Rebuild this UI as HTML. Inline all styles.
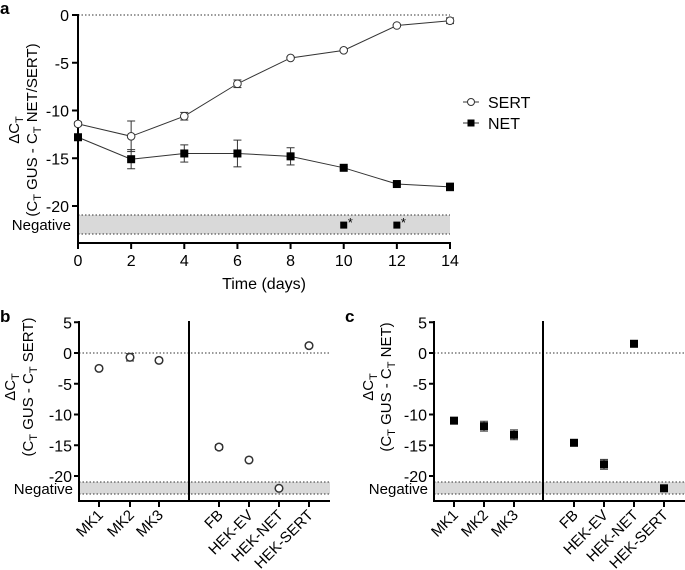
<!DOCTYPE html>
<html><head><meta charset="utf-8"><style>
html,body{margin:0;padding:0;background:#fff;}
svg{display:block;font-family:"Liberation Sans",Arial,sans-serif;}
</style></head><body>
<svg id="fig" width="685" height="570" viewBox="0 0 685 570"></svg>
<script>
const days=[0,2,4,6,8,10,12,14];
const sertA=[-11.4,-12.7,-10.6,-7.2,-4.5,-3.7,-1.1,-0.6];
const sertAErr=[0.2,1.6,0.4,0.4,0.1,0.1,0.1,0.3];
const netA=[-12.8,-15.1,-14.5,-14.5,-14.8,-16.0,-17.7,-18.0];
const netAErr=[0.1,1.0,0.9,1.4,0.9,0.1,0.1,0.4];
const netNegDays=[10,12];
const negValue=-22;
const yTicksA=[0,-5,-10,-15,-20];
const xTicksA=[0,2,4,6,8,10,12,14];
const cats=["MK1","MK2","MK3","FB","HEK-EV","HEK-NET","HEK-SERT"];
const sertB=[-2.5,-0.7,-1.2,-15.3,-17.4,-22,1.2];
const sertBErr=[0.3,0.6,0.3,0.4,0.2,0.2,0.3];
const netC=[-11.0,-11.9,-13.3,-14.6,-18.1,1.5,-22];
const netCErr=[0.3,0.8,0.8,0.3,0.8,0.3,0.2];
const yTicksBC=[5,0,-5,-10,-15,-20];

const NS="http://www.w3.org/2000/svg";
const svg=document.getElementById('fig');
function el(tag,attrs,parent,text){const e=document.createElementNS(NS,tag);for(const k in attrs)e.setAttribute(k,attrs[k]);if(text!==undefined)e.textContent=text;(parent||svg).appendChild(e);return e;}

// ---------- Panel a ----------
const gA=el('g',{});


const xA=d=>78+(d-0)*(450-78)/14;
const yA=v=>15+(0-v)*(206-15)/20;
const bandA=el('rect',{x:78,y:215,width:372,height:19,fill:'#d9d9d9'},gA);


el('line',{x1:78,x2:450,y1:215,y2:215,stroke:'#333','stroke-dasharray':'1.5,2'},gA);
el('line',{x1:78,x2:450,y1:234,y2:234,stroke:'#333','stroke-dasharray':'1.5,2'},gA);
el('line',{x1:78,x2:450,y1:yA(0),y2:yA(0),stroke:'#333','stroke-dasharray':'1.5,2'},gA);
el('line',{x1:78,x2:78,y1:14,y2:244,stroke:'#000','stroke-width':2},gA);
el('line',{x1:77,x2:451,y1:243,y2:243,stroke:'#000','stroke-width':2},gA);
yTicksA.forEach(t=>{el('line',{x1:72,x2:78,y1:yA(t),y2:yA(t),stroke:'#000','stroke-width':2},gA);
 const tx=el('text',{x:69,y:yA(t)+6,'text-anchor':'end','font-size':16},gA,String(t));
 });
const negA=el('text',{x:71,y:230,'text-anchor':'end','font-size':15},gA,'Negative');

xTicksA.forEach(t=>{el('line',{x1:xA(t),x2:xA(t),y1:243,y2:249,stroke:'#000','stroke-width':2},gA);
 const tx=el('text',{x:xA(t),y:266,'text-anchor':'middle','font-size':16},gA,String(t));
 });
const xt=el('text',{x:264,y:289,'text-anchor':'middle','font-size':16},gA,'Time (days)');

function yTitle(g,cx,cy,sub){
 const t=el('text',{transform:`translate(${cx},${cy}) rotate(-90)`,'text-anchor':'middle','font-size':15},g);
 
 el('tspan',{x:0,y:-6},t,'ΔC');el('tspan',{dy:4,'font-size':11},t,'T');
 el('tspan',{x:0,y:12},t,'(C');el('tspan',{dy:4,'font-size':11},t,'T');el('tspan',{dy:-4},t,' GUS - C');el('tspan',{dy:4,'font-size':11},t,'T');el('tspan',{dy:-4},t,' '+sub+')');
}
yTitle(gA,25,130,'NET/SERT');
function errBar(g,x,y,ylo,yhi){el('line',{x1:x,x2:x,y1:ylo,y2:yhi,stroke:'#333','stroke-width':1},g);
 el('line',{x1:x-4,x2:x+4,y1:ylo,y2:ylo,stroke:'#333'},g);el('line',{x1:x-4,x2:x+4,y1:yhi,y2:yhi,stroke:'#333'},g);}
el('polyline',{points:days.map((d,i)=>xA(d)+','+yA(sertA[i])).join(' '),fill:'none',stroke:'#333','stroke-width':1},gA);
el('polyline',{points:days.map((d,i)=>xA(d)+','+yA(netA[i])).join(' '),fill:'none',stroke:'#333','stroke-width':1},gA);
days.forEach((d,i)=>{errBar(gA,xA(d),yA(sertA[i]),yA(sertA[i]-sertAErr[i]),yA(sertA[i]+sertAErr[i]));
 const c=el('circle',{cx:xA(d),cy:yA(sertA[i]),r:3.8,fill:'#fff',stroke:'#333','stroke-width':1},gA);
 });
days.forEach((d,i)=>{errBar(gA,xA(d),yA(netA[i]),yA(netA[i]-netAErr[i]),yA(netA[i]+netAErr[i]));
 const r=el('rect',{x:xA(d)-4,y:yA(netA[i])-4,width:8,height:8,fill:'#000'},gA);
 });
netNegDays.forEach(d=>{const r=el('rect',{x:xA(d)-3.5,y:yA(negValue)-3.5,width:7,height:7,fill:'#000'},gA);
 
 el('text',{x:xA(d)+4,y:yA(negValue)+2,'font-size':13},gA,'*');});
const lg=el('g',{},gA);
el('line',{x1:463,x2:479,y1:102,y2:102,stroke:'#333'},lg);el('circle',{cx:471,cy:102,r:3.5,fill:'#fff',stroke:'#333'},lg);
el('text',{x:488,y:108,'font-size':16},lg,'SERT');
el('line',{x1:463,x2:479,y1:123,y2:123,stroke:'#333'},lg);el('rect',{x:467.5,y:119.5,width:7,height:7,fill:'#000'},lg);
el('text',{x:488,y:129,'font-size':16},lg,'NET');
el('text',{x:0,y:14,'font-size':17,'font-weight':'bold'},gA,'a');

// ---------- Panels b and c ----------
function panel(name,letter,letterX,ax,xs,divX,right,vals,errs,filled,sub,labelX){
 const g=el('g',{});
 const y=v=>353+(0-v)*(476-353)/20;
 el('rect',{x:ax,y:482,width:right-ax,height:12,fill:'#d9d9d9'},g);
 [482,494,y(0)].forEach(yy=>el('line',{x1:ax,x2:right,y1:yy,y2:yy,stroke:'#333','stroke-dasharray':'1.5,2'},g));
 el('line',{x1:ax,x2:ax,y1:321,y2:502,stroke:'#000','stroke-width':2},g);
 el('line',{x1:divX,x2:divX,y1:321,y2:502,stroke:'#000','stroke-width':2},g);
 el('line',{x1:ax-1,x2:right,y1:501,y2:501,stroke:'#000','stroke-width':2},g);
 yTicksBC.forEach(t=>{el('line',{x1:ax-5,x2:ax,y1:y(t),y2:y(t),stroke:'#000','stroke-width':2},g);
  const tx=el('text',{x:ax-7,y:y(t)+6,'text-anchor':'end','font-size':16},g,String(t));
  });
 el('text',{x:ax-6,y:494,'text-anchor':'end','font-size':15},g,'Negative');
 cats.forEach((c,i)=>{const x=xs[i];el('line',{x1:x,x2:x,y1:501,y2:507,stroke:'#000','stroke-width':2},g);
  const tx=el('text',{transform:`translate(${x+5},${516}) rotate(-45)`,'text-anchor':'end','font-size':15},g,c);
  
  const v=vals[i];errBar(g,x,y(v),y(v-errs[i]),y(v+errs[i]));
  let m;
  if(filled){m=el('rect',{x:x-4,y:y(v)-4,width:8,height:8,fill:'#000'},g);}
  else{m=el('circle',{cx:x,cy:y(v),r:3.8,fill:'#fff',stroke:'#333','stroke-width':1.5},g);}
  });
 yTitle(g,labelX,387,sub);
 el('text',{x:letterX,y:322,'font-size':17,'font-weight':'bold'},g,letter);
}
panel('panel-b','b',0,79,[99,130,159,219,249,279,309],189,330,sertB,sertBErr,false,'SERT',21);
panel('panel-c','c',345,434,[454,484,514,574,604,634,664],543,685,netC,netCErr,true,'NET',379);
</script>
</body></html>
